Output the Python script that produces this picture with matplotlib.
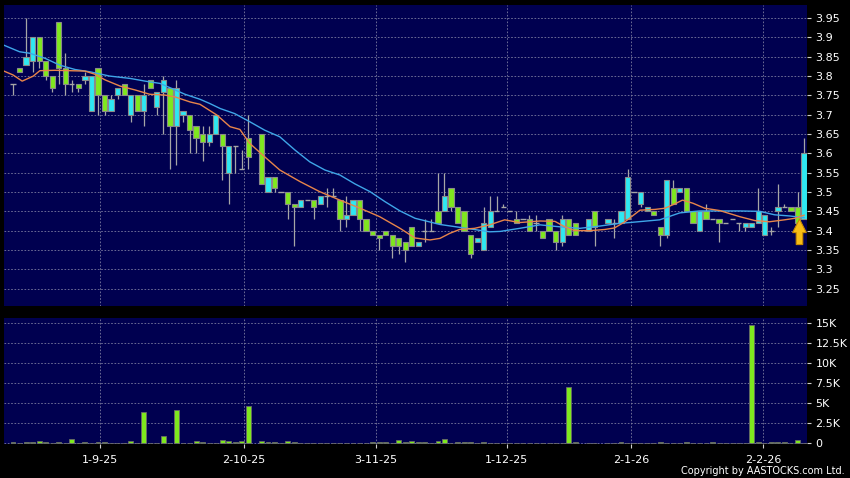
import numpy as np
import matplotlib
matplotlib.use('Agg')
import matplotlib.pyplot as plt
from matplotlib.patches import Polygon
from matplotlib.ticker import FuncFormatter

nan = np.nan

# ---------------- data ----------------
opens = [3.78, 3.82, 3.83, 3.84, 3.90, 3.84, 3.80, 3.94, 3.82, 3.78,
         3.78, 3.79, 3.71, 3.82, 3.75, 3.71, 3.75, 3.78, 3.70, 3.75,
         3.71, 3.79, 3.72, 3.76, 3.77, 3.67, 3.70, 3.70, 3.67, 3.65,
         3.63, 3.65, 3.65, 3.55, 3.62, 3.56, 3.64, nan, 3.65, 3.50,
         3.54, 3.50, 3.50, 3.47, 3.46, 3.48, 3.48, 3.47, 3.49, 3.49,
         3.48, 3.43, 3.44, 3.48, 3.43, 3.40, 3.39, 3.40, 3.39, 3.38,
         3.37, 3.41, 3.36, 3.40, 3.40, 3.45, 3.45, 3.51, 3.46, 3.45,
         3.39, 3.37, 3.35, 3.41, 3.45, 3.46, 3.45, 3.43, 3.43, 3.43,
         3.42, 3.40, 3.43, 3.40, 3.37, 3.43, 3.42, nan, 3.40, 3.45,
         nan, 3.42, 3.42, 3.42, 3.43, 3.50, 3.47, 3.45, 3.45, 3.41,
         3.39, 3.51, 3.50, 3.51, 3.45, 3.40, 3.45, 3.43, 3.43, 3.42,
         3.43, 3.42, 3.41, 3.41, 3.42, 3.39, 3.40, 3.45, 3.46, 3.46,
         3.46, 3.43]
closes = [3.78, 3.81, 3.85, 3.90, 3.84, 3.80, 3.77, 3.82, 3.78, 3.78,
          3.77, 3.80, 3.80, 3.75, 3.71, 3.74, 3.77, 3.75, 3.75, 3.71,
          3.75, 3.77, 3.76, 3.79, 3.67, 3.77, 3.71, 3.66, 3.64, 3.63,
          3.65, 3.70, 3.62, 3.62, 3.62, 3.56, 3.59, nan, 3.52, 3.54,
          3.51, 3.50, 3.47, 3.46, 3.48, 3.48, 3.46, 3.49, 3.49, 3.49,
          3.43, 3.44, 3.48, 3.43, 3.40, 3.39, 3.38, 3.39, 3.36, 3.36,
          3.35, 3.36, 3.37, 3.40, 3.40, 3.42, 3.49, 3.46, 3.42, 3.40,
          3.34, 3.38, 3.42, 3.45, 3.45, 3.46, 3.45, 3.42, 3.43, 3.40,
          3.42, 3.38, 3.40, 3.37, 3.43, 3.39, 3.39, nan, 3.43, 3.41,
          nan, 3.43, 3.42, 3.45, 3.54, 3.50, 3.50, 3.46, 3.44, 3.39,
          3.53, 3.47, 3.51, 3.45, 3.42, 3.45, 3.43, 3.43, 3.42, 3.42,
          3.43, 3.42, 3.42, 3.42, 3.45, 3.44, 3.40, 3.46, 3.46, 3.45,
          3.42, 3.60]
highs = [3.78, 3.82, 3.95, 3.90, 3.90, 3.84, 3.80, 3.94, 3.86, 3.79,
         3.78, 3.81, 3.80, 3.82, 3.75, 3.75, 3.77, 3.78, 3.75, 3.75,
         3.78, 3.79, 3.76, 3.80, 3.77, 3.79, 3.71, 3.70, 3.67, 3.67,
         3.67, 3.70, 3.65, 3.62, 3.62, 3.61, 3.70, nan, 3.65, 3.54,
         3.54, 3.50, 3.50, 3.47, 3.48, 3.48, 3.48, 3.49, 3.51, 3.51,
         3.48, 3.49, 3.48, 3.48, 3.43, 3.40, 3.39, 3.40, 3.39, 3.38,
         3.37, 3.41, 3.37, 3.43, 3.43, 3.55, 3.55, 3.51, 3.46, 3.45,
         3.39, 3.38, 3.46, 3.49, 3.49, 3.47, 3.45, 3.45, 3.43, 3.44,
         3.44, 3.40, 3.43, 3.40, 3.44, 3.43, 3.42, nan, 3.43, 3.45,
         nan, 3.43, 3.43, 3.45, 3.56, 3.50, 3.50, 3.46, 3.45, 3.41,
         3.53, 3.53, 3.51, 3.51, 3.45, 3.45, 3.47, 3.43, 3.43, 3.42,
         3.43, 3.42, 3.42, 3.42, 3.51, 3.44, 3.41, 3.52, 3.47, 3.46,
         3.50, 3.64]
lows = [3.75, 3.81, 3.83, 3.81, 3.82, 3.79, 3.76, 3.78, 3.75, 3.76,
        3.76, 3.78, 3.71, 3.70, 3.70, 3.71, 3.74, 3.75, 3.68, 3.71,
        3.67, 3.77, 3.70, 3.65, 3.56, 3.57, 3.68, 3.60, 3.60, 3.58,
        3.62, 3.65, 3.53, 3.47, 3.55, 3.56, 3.56, nan, 3.52, 3.50,
        3.50, 3.50, 3.43, 3.36, 3.46, 3.48, 3.43, 3.47, 3.46, 3.49,
        3.40, 3.41, 3.44, 3.40, 3.40, 3.39, 3.35, 3.39, 3.33, 3.34,
        3.32, 3.36, 3.36, 3.37, 3.40, 3.42, 3.45, 3.45, 3.42, 3.40,
        3.33, 3.37, 3.35, 3.41, 3.45, 3.46, 3.45, 3.42, 3.43, 3.40,
        3.40, 3.38, 3.40, 3.35, 3.36, 3.39, 3.39, nan, 3.40, 3.36,
        nan, 3.42, 3.38, 3.42, 3.43, 3.50, 3.46, 3.45, 3.44, 3.36,
        3.38, 3.47, 3.50, 3.45, 3.42, 3.40, 3.43, 3.43, 3.37, 3.42,
        3.43, 3.40, 3.40, 3.41, 3.42, 3.39, 3.39, 3.41, 3.46, 3.45,
        3.42, 3.43]
volumes = [100, 50, 150, 150, 300, 100, 50, 100, 50, 550,
           50, 100, 50, 200, 100, 50, 50, 50, 300, 50,
           3950, 50, 50, 960, 50, 4160, 50, 50, 300, 100,
           50, 50, 350, 250, 100, 300, 4600, 0, 300, 100,
           200, 50, 250, 150, 50, 50, 50, 50, 50, 50,
           50, 50, 50, 50, 50, 150, 150, 150, 50, 420,
           200, 300, 150, 100, 50, 330, 540, 50, 100, 100,
           100, 50, 100, 50, 50, 50, 50, 50, 50, 50,
           50, 50, 50, 50, 50, 7080, 100, 0, 50, 50,
           0, 50, 50, 100, 50, 50, 50, 50, 50, 200,
           80, 80, 80, 100, 50, 50, 50, 100, 50, 50,
           50, 50, 50, 14800, 100, 50, 100, 200, 100, 50,
           400, 50]

ma10_x = [-1.4, 0, 1.4, 3.1, 4.1, 6.4, 11, 12.5, 14.1, 16.4, 18.7, 20.9, 23.2,
          24.8, 27.1, 28.6, 31.2, 33.2, 34.7, 36.2, 38.5, 40.8, 43.9, 46.9, 50,
          53.1, 56.1, 59.2, 61.5, 63.8, 65.3, 66.8, 68.3, 70.6, 72.9, 75.2, 77.5,
          80.6, 82.9, 84.4, 85.9, 88.2, 90.5, 92, 93.6, 95.9, 98.2, 99.7, 101.2,
          102.4, 104, 105.8, 108.1, 111.2, 113.5, 115.7, 118, 119.6, 121]
ma10_y = [3.813, 3.803, 3.787, 3.800, 3.814, 3.815, 3.813, 3.805, 3.790, 3.774,
          3.764, 3.753, 3.751, 3.746, 3.733, 3.727, 3.699, 3.669, 3.662, 3.626,
          3.591, 3.557, 3.527, 3.501, 3.479, 3.458, 3.436, 3.406, 3.381, 3.376,
          3.380, 3.393, 3.403, 3.406, 3.415, 3.428, 3.421, 3.425, 3.424, 3.410,
          3.400, 3.400, 3.403, 3.407, 3.423, 3.453, 3.455, 3.458, 3.469, 3.479,
          3.471, 3.458, 3.452, 3.436, 3.426, 3.423, 3.428, 3.432, 3.440]
ma20_x = [-1.4, 1, 2.6, 4.9, 7.2, 9.5, 11.8, 14.8, 17.9, 20.2, 22.5, 24, 26.3,
          28.6, 30.1, 31.7, 33.9, 36.2, 38.5, 40.8, 43.1, 45.4, 47.7, 50, 52.3,
          54.6, 56.9, 59.2, 61.5, 65.3, 69.4, 72.9, 74.5, 77.5, 80.6, 83.6, 86.7,
          89.8, 92.8, 94.3, 98.9, 102, 105, 111.2, 114.2, 116.5, 118.8, 120.3, 121]
ma20_y = [3.880, 3.863, 3.859, 3.846, 3.828, 3.817, 3.811, 3.800, 3.794, 3.787,
          3.781, 3.770, 3.753, 3.740, 3.729, 3.716, 3.703, 3.682, 3.660, 3.643,
          3.609, 3.578, 3.557, 3.544, 3.521, 3.501, 3.475, 3.451, 3.432, 3.416,
          3.406, 3.397, 3.398, 3.406, 3.415, 3.410, 3.406, 3.412, 3.419, 3.421,
          3.428, 3.446, 3.451, 3.451, 3.450, 3.441, 3.438, 3.435, 3.434]

date_tick_pos = [13.3, 35.3, 55.5, 75.5, 94.5, 114.7]
date_tick_labels = ['1-9-25', '2-10-25', '3-11-25', '1-12-25', '2-1-26', '2-2-26']
price_ticks = [3.25, 3.30, 3.35, 3.40, 3.45, 3.50, 3.55, 3.60, 3.65, 3.70,
               3.75, 3.80, 3.85, 3.90, 3.95]
price_tick_labels = ['3.25', '3.3', '3.35', '3.4', '3.45', '3.5', '3.55', '3.6',
                     '3.65', '3.7', '3.75', '3.8', '3.85', '3.9', '3.95']
vol_ticks = [0, 2500, 5000, 7500, 10000, 12500, 15000]
signal_idx = 120.3
signal_price = 3.43
copyright_text = 'Copyright by AASTOCKS.com Ltd.'

# ---------------- style ----------------
BG = '#000050'
CYAN = '#2ee8f2'
GREEN = '#7fe81e'
EDGE = '#8a8a8a'
WICK = '#a6a6a6'
GRID = '#7c7ca0'
ORANGE = '#e8854a'
BLUE = '#3fa6e8'
plt.rcParams['font.family'] = ['DejaVu Sans']

W, H = 850, 478
fig = plt.figure(figsize=(W / 100, H / 100), dpi=100, facecolor='black')
ax = fig.add_axes([4 / W, 1 - 306 / H, 803 / W, 301 / H], facecolor=BG)
axv = fig.add_axes([4 / W, 1 - 444 / H, 803 / W, 126 / H], facecolor=BG)

o = np.array(opens, float)
c = np.array(closes, float)
h = np.array(highs, float)
l = np.array(lows, float)
v = np.array(volumes, float)
x = np.arange(len(o))
valid = ~np.isnan(o)
up = valid & (c > o)
dn = valid & (c < o)
fl = valid & (c == o)

xlim = (-1.38, 121.45)
for a in (ax, axv):
    a.set_xlim(*xlim)
    a.set_xticks(date_tick_pos)
    a.grid(True, color=GRID, linestyle=(0, (2, 2)), linewidth=0.6, zorder=0)
    a.set_axisbelow(True)
    for s in a.spines.values():
        s.set_visible(False)
    a.yaxis.tick_right()
    a.tick_params(axis='y', colors='#cfcfcf', labelcolor='white', length=3,
                  width=0.8, pad=3, labelsize=8)

# price panel
ax.vlines(x[valid], l[valid], h[valid], color=WICK, linewidth=0.9, zorder=2)
bw = 0.8
ax.bar(x[up], (c - o)[up], bottom=o[up], width=bw, color=CYAN, edgecolor=EDGE,
       linewidth=0.8, zorder=3)
ax.bar(x[dn], (o - c)[dn], bottom=c[dn], width=bw, color=GREEN, edgecolor=EDGE,
       linewidth=0.8, zorder=3)
ax.hlines(o[fl], x[fl] - bw / 2, x[fl] + bw / 2, color=WICK, linewidth=1.0, zorder=3)
ax.plot(ma20_x, ma20_y, color=BLUE, linewidth=1.0, zorder=4)
ax.plot(ma10_x, ma10_y, color=ORANGE, linewidth=1.0, zorder=4)

# signal arrow
hw, sw, hh, th = 1.05, 0.5, 0.035, 0.066
arrow = Polygon([(signal_idx, signal_price),
                 (signal_idx + hw, signal_price - hh),
                 (signal_idx + sw, signal_price - hh),
                 (signal_idx + sw, signal_price - th),
                 (signal_idx - sw, signal_price - th),
                 (signal_idx - sw, signal_price - hh),
                 (signal_idx - hw, signal_price - hh)],
                closed=True, facecolor='#f7bd14', edgecolor='#c98a00',
                linewidth=0.8, zorder=6)
ax.add_patch(arrow)

ax.set_ylim(3.205, 3.984)
ax.set_yticks(price_ticks)
ax.set_yticklabels(price_tick_labels)
ax.tick_params(axis='x', length=0, labelbottom=False)

# volume panel
m = v > 0
axv.bar(x[m], v[m], width=0.75, color=GREEN, edgecolor='#6a6a6a', linewidth=0.6,
        zorder=3)
axv.set_ylim(-90, 15660)
axv.set_yticks(vol_ticks)
axv.yaxis.set_major_formatter(FuncFormatter(
    lambda val, pos: '0' if val == 0 else ('%gK' % (val / 1000))))
axv.set_xticklabels(date_tick_labels)
axv.tick_params(axis='x', colors='#cfcfcf', labelcolor='white', length=3,
                width=0.8, pad=5, labelsize=8)

fig.text(845 / W, 1 - 471 / H, copyright_text, color='white', fontsize=7,
         ha='right', va='center')

fig.savefig('out.png', dpi=100, facecolor='black')
